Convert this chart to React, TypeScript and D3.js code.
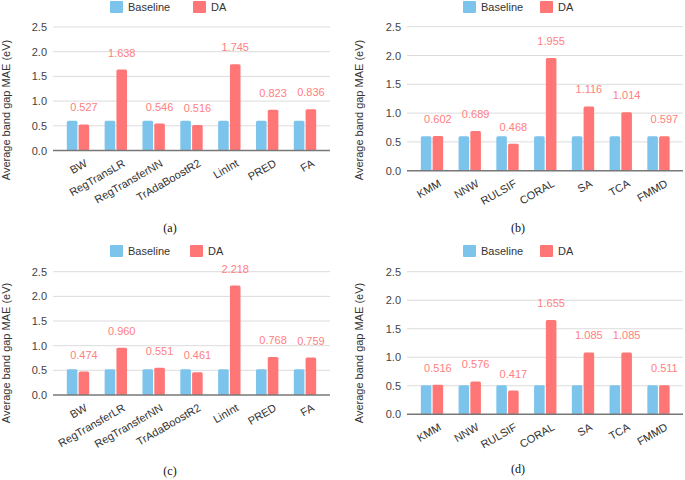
import React from "react";
import * as d3 from "d3";

const catsA = ["BW", "RegTransLR", "RegTransferNN", "TrAdaBoostR2", "LinInt", "PRED", "FA"];
const baseA = [0.6, 0.6, 0.6, 0.6, 0.6, 0.6, 0.6];
const daA = [0.527, 1.638, 0.546, 0.516, 1.745, 0.823, 0.836];

const catsB = ["KMM", "NNW", "RULSIF", "CORAL", "SA", "TCA", "FMMD"];
const baseB = [0.6, 0.6, 0.6, 0.6, 0.6, 0.6, 0.6];
const daB = [0.602, 0.689, 0.468, 1.955, 1.116, 1.014, 0.597];

const catsC = ["BW", "RegTransferLR", "RegTransferNN", "TrAdaBoostR2", "LinInt", "PRED", "FA"];
const baseC = [0.52, 0.52, 0.52, 0.52, 0.52, 0.52, 0.52];
const daC = [0.474, 0.96, 0.551, 0.461, 2.218, 0.768, 0.759];

const catsD = ["KMM", "NNW", "RULSIF", "CORAL", "SA", "TCA", "FMMD"];
const baseD = [0.51, 0.51, 0.51, 0.51, 0.51, 0.51, 0.51];
const daD = [0.516, 0.576, 0.417, 1.655, 1.085, 1.085, 0.511];

const yTicks = [0, 0.5, 1.0, 1.5, 2.0, 2.5];
const seriesNames = ["Baseline", "DA"];

const BLUE = "#7cc4ec";
const RED = "#ff7676";
const LABEL_RED = "#ff8080";
const FONT = "'Liberation Sans', Arial, sans-serif";

type PanelProps = {
  cats: string[];
  base: number[];
  da: number[];
  caption: string;
  gridL: number;
  gridR: number;
  c0: number;
  cN: number;
  y0: number;
  yTop: number;
  titleX: number;
  titleY: number;
  legX: number;
  legRedX: number;
  legY: number;
  capX: number;
  capY: number;
};

function Panel(p: PanelProps) {
  const step = (p.cN - p.c0) / (p.cats.length - 1);
  const x = d3
    .scaleBand<string>()
    .domain(p.cats)
    .range([p.c0 - step / 2, p.cN + step / 2])
    .padding(0);
  const y = d3.scaleLinear().domain([0, 2.5]).range([p.y0, p.yTop]);
  const bw = x.bandwidth();
  const barW = bw * 0.28;
  const gap = 1.2;
  return (
    <g fontFamily={FONT}>
      {/* legend */}
      <rect x={p.legX} y={p.legY - 6} width={13} height={12} fill={BLUE} rx={1} />
      <text x={p.legX + 18} y={p.legY + 4} fontSize={11} fill="#333">
        {seriesNames[0]}
      </text>
      <rect x={p.legRedX} y={p.legY - 6} width={13} height={12} fill={RED} rx={1} />
      <text x={p.legRedX + 18} y={p.legY + 4} fontSize={11} fill="#333">
        {seriesNames[1]}
      </text>
      {/* grid */}
      {yTicks.map((t) => (
        <g key={t}>
          {t > 0 && (
            <line x1={p.gridL} x2={p.gridR} y1={y(t)} y2={y(t)} stroke="#dcdcdc" strokeWidth={1} />
          )}
          <text x={p.gridL - 6} y={y(t) + 4} fontSize={11} fill="#444" textAnchor="end">
            {d3.format(".1f")(t)}
          </text>
        </g>
      ))}
      {/* bars */}
      {p.cats.map((c, i) => {
        const cx = (x(c) as number) + bw / 2;
        return (
          <g key={c}>
            <rect
              x={cx - gap / 2 - barW}
              y={y(p.base[i])}
              width={barW}
              height={p.y0 - y(p.base[i])}
              fill={BLUE}
              rx={1.5}
            />
            <rect
              x={cx + gap / 2}
              y={y(p.da[i])}
              width={barW}
              height={p.y0 - y(p.da[i])}
              fill={RED}
              rx={1.5}
            />
            <text
              x={cx + gap / 2 + barW / 2}
              y={y(p.da[i]) - 13}
              fontSize={11}
              fill={LABEL_RED}
              textAnchor="middle"
            >
              {d3.format(".3f")(p.da[i])}
            </text>
            <text
              transform={`translate(${cx + 10},${p.y0 + 15}) rotate(-30)`}
              fontSize={11}
              fill="#333"
              textAnchor="end"
            >
              {c}
            </text>
          </g>
        );
      })}
      <line x1={p.gridL} x2={p.gridR} y1={p.y0} y2={p.y0} stroke="#777" strokeWidth={1.5} />
      <text
        transform={`translate(${p.titleX},${p.titleY}) rotate(-90)`}
        fontSize={11}
        fill="#333"
        textAnchor="middle"
      >
        Average band gap MAE (eV)
      </text>
      <text
        x={p.capX}
        y={p.capY}
        fontSize={12}
        fontFamily="'Liberation Serif', 'Times New Roman', serif"
        textAnchor="middle"
        fill="#111"
      >
        {p.caption}
      </text>
    </g>
  );
}

export default function App() {
  return (
    <svg
      width={685}
      height={480}
      style={{ position: "absolute", left: 0, top: 0, background: "#fff" }}
    >
      <rect width={685} height={480} fill="#fff" />
      <Panel
        cats={catsA}
        base={baseA}
        da={daA}
        caption="(a)"
        gridL={53}
        gridR={330}
        c0={78}
        cN={305}
        y0={150.5}
        yTop={27}
        titleX={10}
        titleY={110}
        legX={110}
        legRedX={193}
        legY={7}
        capX={170}
        capY={232}
      />
      <Panel
        cats={catsB}
        base={baseB}
        da={daB}
        caption="(b)"
        gridL={407}
        gridR={683}
        c0={432}
        cN={658.5}
        y0={170.7}
        yTop={26.7}
        titleX={363}
        titleY={110}
        legX={463}
        legRedX={540}
        legY={7}
        capX={518}
        capY={232}
      />
      <Panel
        cats={catsC}
        base={baseC}
        da={daC}
        caption="(c)"
        gridL={53}
        gridR={330}
        c0={78}
        cN={305}
        y0={395}
        yTop={271.7}
        titleX={10}
        titleY={353}
        legX={110}
        legRedX={190}
        legY={251}
        capX={170}
        capY={475}
      />
      <Panel
        cats={catsD}
        base={baseD}
        da={daD}
        caption="(d)"
        gridL={407}
        gridR={683}
        c0={432}
        cN={658.5}
        y0={414.3}
        yTop={271.7}
        titleX={363}
        titleY={353}
        legX={463}
        legRedX={540}
        legY={251}
        capX={518}
        capY={473}
      />
    </svg>
  );
}
